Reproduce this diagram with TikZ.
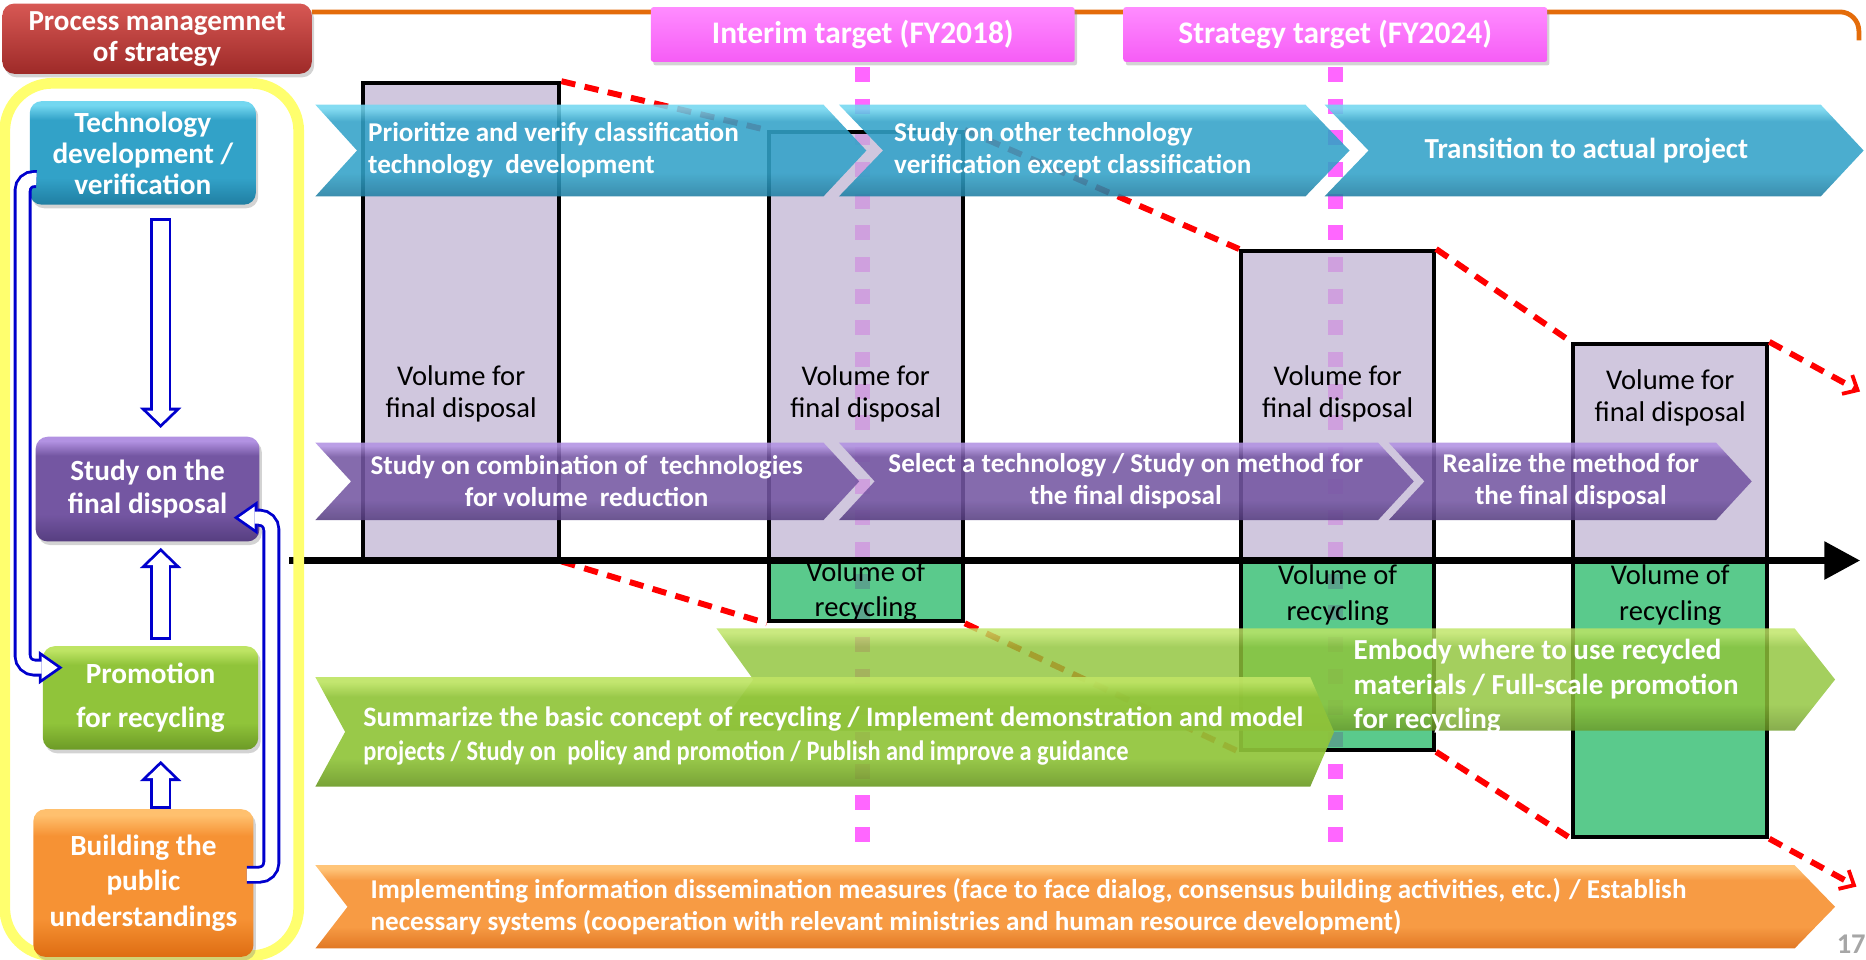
\documentclass[tikz,border=0pt]{standalone}
\usepackage{fontspec}
\setmainfont{Carlito}
\usetikzlibrary{arrows.meta,shadows}

\definecolor{titletop}{RGB}{215,88,84}
\definecolor{titlebot}{RGB}{158,42,40}
\definecolor{pinktop}{RGB}{255,140,255}
\definecolor{pinkbot}{RGB}{246,92,246}
\definecolor{milepink}{RGB}{255,102,255}
\definecolor{tealtop}{RGB}{115,215,240}
\definecolor{tealmid}{RGB}{50,162,200}
\definecolor{tealbot}{RGB}{32,126,162}
\definecolor{purptop}{RGB}{178,146,226}
\definecolor{purpmid}{RGB}{116,86,162}
\definecolor{purpbot}{RGB}{86,62,128}
\definecolor{greentop}{RGB}{190,228,100}
\definecolor{greenmid}{RGB}{144,196,58}
\definecolor{greenbot}{RGB}{108,154,38}
\definecolor{orangetop}{RGB}{255,192,110}
\definecolor{orangemid}{RGB}{246,146,52}
\definecolor{orangebot}{RGB}{222,108,18}
\definecolor{lavender}{RGB}{192,180,211}
\definecolor{mint}{RGB}{35,184,102}
\definecolor{arrowblue}{RGB}{0,0,205}
\definecolor{frameyellow}{RGB}{255,255,110}
\definecolor{lineorange}{RGB}{228,108,10}

\pgfdeclareverticalshading{tealshade}{100bp}{color(0bp)=(tealbot); color(25bp)=(tealbot); color(38bp)=(tealmid); color(66bp)=(tealmid); color(73bp)=(tealtop); color(100bp)=(tealtop)}
\pgfdeclareverticalshading{purpshade}{100bp}{color(0bp)=(purpbot); color(25bp)=(purpbot); color(38bp)=(purpmid); color(66bp)=(purpmid); color(73bp)=(purptop); color(100bp)=(purptop)}
\pgfdeclareverticalshading{greenshade}{100bp}{color(0bp)=(greenbot); color(25bp)=(greenbot); color(38bp)=(greenmid); color(66bp)=(greenmid); color(73bp)=(greentop); color(100bp)=(greentop)}
\pgfdeclareverticalshading{orangeshade}{100bp}{color(0bp)=(orangebot); color(25bp)=(orangebot); color(38bp)=(orangemid); color(66bp)=(orangemid); color(73bp)=(orangetop); color(100bp)=(orangetop)}

\begin{document}
\begin{tikzpicture}[x = 0.5pt, y = -0.5pt,
		leftbox/.style = {rounded corners = 5pt, text = white, align = center, inner sep = 0,
			drop shadow = {opacity = 0.35, shadow xshift = 1pt, shadow yshift = -1.5pt}},
		techcol/.style = {shade, shading = tealshade},
		purpcol/.style = {shade, shading = purpshade},
		greencol/.style = {shade, shading = greenshade},
		orangecol/.style = {shade, shading = orangeshade},
		chevtext/.style = {text = white, inner sep = 0, font = \fontsize{11.4}{13.5}\selectfont\bfseries},
		fdbox/.style = {draw, line width = 1.75pt, fill = lavender, fill opacity = 0.75, inner sep = 0},
		rcbox/.style = {draw, line width = 1.75pt, fill = mint, fill opacity = 0.75, inner sep = 0},
		voltext/.style = {align = center, inner sep = 0, font = \fontsize{12}{13.5}\selectfont},
		trend/.style = {draw = red, line width = 2.5pt, dash pattern = on 6pt off 4pt},
		milestone/.style = {draw = milepink, line width = 6.3pt, dash pattern = on 6.3pt off 7pt},
		timeline/.style = {draw = black, line width = 2.6pt, -{Triangle[length = 15pt, width = 15.5pt]}},
		blockflow/.style = {draw = arrowblue, line width = 9pt,
			-{Triangle[length = 8.5pt, width = 17.5pt, line width = 0pt]},
			postaction = {draw = white, line width = 6.6pt,
				-{Triangle[length = 5.6pt, width = 11.6pt, line width = 0pt]},
				shorten > = 1.67pt, shorten < = 1.2pt}},
		loopflow/.style = {draw = arrowblue, line width = 7.5pt, rounded corners = 5pt,
			-{Triangle[length = 10pt, width = 14pt, line width = 0pt]},
			postaction = {draw = white, line width = 5.1pt,
				-{Triangle[length = 6.7pt, width = 9.4pt, line width = 0pt]},
				shorten > = 2.09pt}}]

		\useasboundingbox (0,0) rectangle (1568,806);

		% heading and milestones
		\draw[lineorange, line width = 2pt, rounded corners = 8pt] (262,10) -- (1562,10) -- (1562,34);
		\node [leftbox, top color = titletop, bottom color = titlebot, minimum width = 130pt, minimum height = 29.5pt,
			font = \fontsize{12.2}{13}\selectfont\bfseries] (title) at (132,32.5) {Process managemnet\\of strategy};
		\node [leftbox, rounded corners = 1pt, top color = pinktop, bottom color = pinkbot, minimum width = 178pt, minimum height = 23pt,
			font = \fontsize{13.2}{15}\selectfont\bfseries] (interim) at (725,29) {Interim target (FY2018)};
		\node [leftbox, rounded corners = 1pt, top color = pinktop, bottom color = pinkbot, minimum width = 178pt, minimum height = 23pt,
			font = \fontsize{13.2}{15}\selectfont\bfseries] (strategy) at (1122,29) {Strategy target (FY2024)};
		\coordinate (interimend) at (725,712);
		\coordinate (strategyend) at (1122,712);
		\draw[milestone] ([yshift = -2pt]interim.south) -- (interimend);
		\draw[milestone] ([yshift = -2pt]strategy.south) -- (strategyend);

		% volumes
		\node [fdbox, minimum width = 82.5pt, minimum height = 200pt] (fd1) at (387.5,270) {};
		\node [fdbox, minimum width = 81.5pt, minimum height = 179.5pt] (fd2) at (727.5,290.5) {};
		\node [fdbox, minimum width = 81pt, minimum height = 129.5pt] (fd3) at (1124,340.5) {};
		\node [fdbox, minimum width = 81.5pt, minimum height = 90.5pt] (fd4) at (1403.5,379.5) {};
		\node [rcbox, minimum width = 81.5pt, minimum height = 26pt] (rc2) at (727.5,496) {};
		\node [rcbox, minimum width = 81pt, minimum height = 80pt] (rc3) at (1124,550) {};
		\node [rcbox, minimum width = 81.5pt, minimum height = 116.5pt] (rc4) at (1403.5,586.5) {};

		\coordinate (uptip) at (1563,329);
		\coordinate (lowtip) at (1560,745);
		\draw[trend, -{Straight Barb[length = 5pt, width = 9pt, line width = 1.6pt]}]
			(fd1.north east) -- (fd2.north west) (fd2.north east) -- (fd3.north west)
			(fd3.north east) -- (fd4.north west) (fd4.north east) -- (uptip);
		\draw[trend, -{Straight Barb[length = 5pt, width = 9pt, line width = 1.6pt]}]
			(fd1.south east) -- (rc2.south west) (rc2.south east) -- (rc3.south west)
			(rc3.south east) -- (rc4.south west) (rc4.south east) -- (lowtip);

		\coordinate (axisL) at (243,471);
		\coordinate (axisR) at (1563,471);
		\draw[timeline] (axisL) -- (axisR);

		\node [voltext] (fd1t) at (387.5,331) {Volume for\\final disposal};
		\node [voltext] (fd2t) at (727.5,331) {Volume for\\final disposal};
		\node [voltext] (fd3t) at (1124,331) {Volume for\\final disposal};
		\node [voltext] (fd4t) at (1403.5,334) {Volume for\\final disposal};
		\node [voltext, font = \fontsize{12}{15}\selectfont] (rc2t) at (727.5,497) {Volume of\\recycling};
		\node [voltext, font = \fontsize{12}{15}\selectfont] (rc3t) at (1124,500) {Volume of\\recycling};
		\node [voltext, font = \fontsize{12}{15}\selectfont] (rc4t) at (1403.5,500) {Volume of\\recycling};

		% technology row
		\shade[techcol, fill opacity = 0.88] (265,88) -- (692,88) -- (728,126.5) -- (692,165) -- (265,165) -- (300,126.5) -- cycle;
		\shade[techcol, fill opacity = 0.88] (705,88) -- (1097,88) -- (1134,126.5) -- (1097,165) -- (705,165) -- (742,126.5) -- cycle;
		\shade[techcol, fill opacity = 0.88] (1113,88) -- (1530,88) -- (1566,126.5) -- (1530,165) -- (1113,165) -- (1150,126.5) -- cycle;
		\node [chevtext, anchor = west, align = left] (prio) at (309,126.5) {Prioritize and verify classification\\technology~ development};
		\node [chevtext, anchor = west, align = left] (othertech) at (751,126.5) {Study on other technology\\verification except classification};
		\node [chevtext, font = \fontsize{12.2}{13.5}\selectfont\bfseries] (transition) at (1333,126.5) {Transition to actual project};

		% final disposal row
		\shade[purpcol, fill opacity = 0.88] (265,372) -- (692,372) -- (722,404.5) -- (692,437) -- (265,437) -- (295,404.5) -- cycle;
		\shade[purpcol, fill opacity = 0.88] (705,372) -- (1158,372) -- (1188,404.5) -- (1158,437) -- (705,437) -- (735,404.5) -- cycle;
		\shade[purpcol, fill opacity = 0.88] (1167,372) -- (1442,372) -- (1472,404.5) -- (1442,437) -- (1167,437) -- (1197,404.5) -- cycle;
		\node [chevtext, align = center] (combi) at (493,404.5) {Study on combination of~ technologies\\for volume~ reduction};
		\node [chevtext, align = center] (selecttech) at (946,404.5) {Select a technology / Study on method for\\the final disposal};
		\node [chevtext, align = center] (realize) at (1320,404.5) {Realize the method for\\the final disposal};

		% recycling row
		\shade[greencol, fill opacity = 0.82] (602,528) -- (1508,528) -- (1542,571) -- (1508,614) -- (602,614) -- (633,571) -- cycle;
		\shade[greencol, fill opacity = 0.92] (265,569) -- (1101,569) -- (1121,615) -- (1101,661) -- (265,661) -- (290,615) -- cycle;
		\node [chevtext, anchor = west, align = left, font = \fontsize{12.2}{14.5}\selectfont\bfseries] (embody) at (1137,577)
			{Embody where to use recycled\\materials / Full-scale promotion\\for recycling};
		\node [chevtext, anchor = west, align = left, font = \fontsize{11.8}{14.5}\selectfont\bfseries] (summarize) at (305,618.5)
			{Summarize the basic concept of recycling / Implement demonstration and model\\\scalebox{0.87}[1]{projects / Study on~ policy and promotion / Publish and improve a guidance}};

		% public row
		\shade[orangecol, fill opacity = 0.92] (265,727) -- (1508,727) -- (1542,762) -- (1508,797) -- (265,797) -- (292,762) -- cycle;
		\node [chevtext, anchor = west, align = left, font = \fontsize{11.4}{13.5}\selectfont\bfseries] (dissem) at (311,762)
			{Implementing information dissemination measures (face to face dialog, consensus building activities, etc.) / Establish\\necessary systems (cooperation with relevant ministries and human resource development)};

		% process management column
		\draw[frameyellow, line width = 4.5pt, rounded corners = 20pt] (4,70) rectangle (251,803);
		\node [leftbox, techcol, minimum width = 95pt, minimum height = 43.5pt,
			font = \fontsize{12.3}{13}\selectfont\bfseries] (tech) at (120,128.5) {Technology\\development /\\verification};
		\node [leftbox, purpcol, minimum width = 94pt, minimum height = 44pt,
			font = \fontsize{12.3}{14}\selectfont\bfseries] (final) at (124,411) {Study on the\\final disposal};
		\node [leftbox, greencol, minimum width = 90.5pt, minimum height = 43.5pt,
			font = \fontsize{12.3}{18.5}\selectfont\bfseries] (recyc) at (126.5,586.5) {Promotion\\for recycling};
		\node [leftbox, orangecol, minimum width = 92.5pt, minimum height = 62pt,
			font = \fontsize{12.3}{15}\selectfont\bfseries] (public) at (120.5,742) {Building the\\public\\understandings};

		\draw[blockflow] ([xshift = 7.5pt, yshift = -5.5pt]tech.south) -- ([xshift = 5.5pt, yshift = 3.5pt]final.north);
		\draw[blockflow] ([xshift = 4.25pt, yshift = 2.5pt]recyc.north) -- ([xshift = 5.5pt, yshift = -2.5pt]final.south);
		\draw[blockflow] ([xshift = 7.25pt]public.north) -- ([xshift = 4.25pt, yshift = -4.5pt]recyc.south);
		\draw[loopflow] ([xshift = 3pt, yshift = -11pt]tech.west) -- (19,150) -- (19,561) -- ([xshift = 8.5pt, yshift = 12.75pt]recyc.west);
		\draw[loopflow] ([xshift = -3pt, yshift = 3.5pt]public.east) -- (228,735) -- (228,435) -- ([xshift = -11pt, yshift = -12pt]final.east);

		\node [anchor = base west, inner sep = 0, text = gray!70, font = \fontsize{12}{12}\selectfont\bfseries] (page) at (1543,801) {17};

		\end{tikzpicture}
\end{document}
